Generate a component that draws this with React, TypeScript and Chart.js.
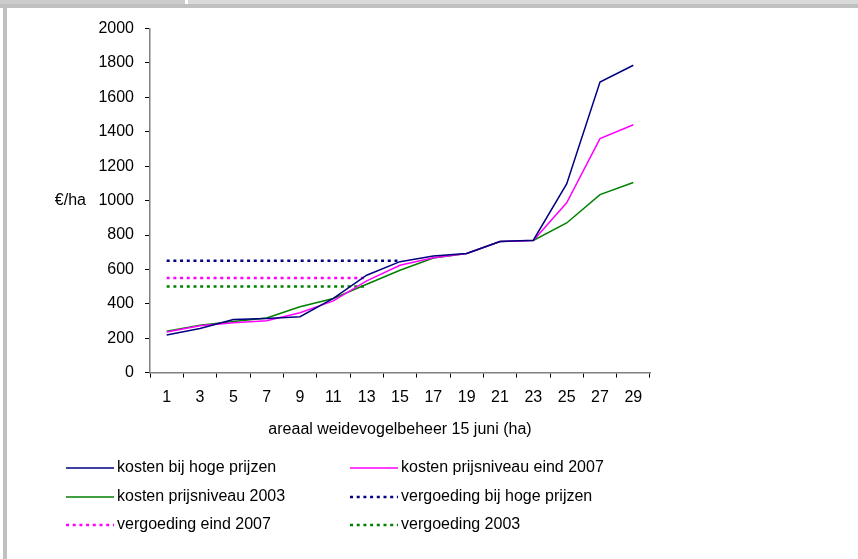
import React, { useEffect, useRef } from "react";
import { Chart, registerables } from "chart.js";

Chart.register(...registerables);

const xLabels = ["1", "3", "5", "7", "9", "11", "13", "15", "17", "19", "21", "23", "25", "27", "29"];
const kostenHoog = [218, 257, 309, 315, 325, 431, 566, 645, 678, 693, 762, 770, 1097, 1689, 1787];
const kosten2007 = [236, 272, 290, 301, 348, 417, 533, 624, 668, 693, 762, 768, 987, 1360, 1441];
const kosten2003 = [240, 276, 297, 317, 383, 431, 514, 595, 666, 693, 762, 768, 870, 1035, 1105];
const vergoedingHoog = [650, 650, 650, 650, 650, 650, 650, 650, null, null, null, null, null, null, null];
const vergoeding2007 = [550, 550, 550, 550, 550, 550, 550, null, null, null, null, null, null, null, null];
const vergoeding2003 = [500, 500, 500, 500, 500, 500, 500, null, null, null, null, null, null, null, null];
const seriesNames = [
  "kosten bij hoge prijzen",
  "kosten prijsniveau eind 2007",
  "kosten prijsniveau 2003",
  "vergoeding bij hoge prijzen",
  "vergoeding eind 2007",
  "vergoeding 2003",
];
const xTitle = "areaal weidevogelbeheer 15 juni (ha)";
const yTitle = "€/ha";

const FONT = "'Liberation Sans', Arial, sans-serif";
const NAVY = "#000080";
const PINK = "#FF00FF";
const GREEN = "#008000";
const DOT = [3, 3.7];

const sidePlugin = {
  id: "sidePlugin",
  afterDraw(chart: any) {
    const ctx = chart.ctx;
    const area = chart.chartArea;
    ctx.save();
    ctx.font = `16px ${FONT}`;
    ctx.fillStyle = "#000";
    ctx.textAlign = "right";
    ctx.textBaseline = "middle";
    ctx.fillText(yTitle, 79, (area.top + area.bottom) / 2);

    // legend in two columns
    const colLine = [59, 343];
    const lineLen = 48;
    const rows = [460, 489, 517];
    chart.data.datasets.forEach((ds: any, i: number) => {
      const col = i % 2;
      const row = Math.floor(i / 2);
      const y = rows[row];
      const x0 = colLine[col];
      ctx.beginPath();
      ctx.strokeStyle = ds.borderColor;
      ctx.lineWidth = ds.borderWidth;
      ctx.setLineDash(ds.borderDash || []);
      ctx.moveTo(x0, y);
      ctx.lineTo(x0 + lineLen, y);
      ctx.stroke();
      ctx.setLineDash([]);
      ctx.textAlign = "left";
      ctx.textBaseline = "middle";
      ctx.fillStyle = "#000";
      ctx.fillText(ds.label, x0 + lineLen + 3, y);
    });
    ctx.restore();
  },
};

export default function App() {
  const ref = useRef<HTMLCanvasElement | null>(null);
  useEffect(() => {
    if (!ref.current) return;
    const mk = (label: string, data: any[], color: string, dashed: boolean) => ({
      label,
      data,
      borderColor: color,
      backgroundColor: color,
      borderWidth: dashed ? 2.5 : 1.5,
      borderDash: dashed ? DOT : [],
      pointRadius: 0,
      fill: false,
      tension: 0,
      spanGaps: false,
    });
    const chart = new Chart(ref.current, {
      type: "line",
      data: {
        labels: xLabels,
        datasets: [
          mk(seriesNames[0], kostenHoog, NAVY, false),
          mk(seriesNames[1], kosten2007, PINK, false),
          mk(seriesNames[2], kosten2003, GREEN, false),
          mk(seriesNames[3], vergoedingHoog, NAVY, true),
          mk(seriesNames[4], vergoeding2007, PINK, true),
          mk(seriesNames[5], vergoeding2003, GREEN, true),
        ],
      },
      options: {
        animation: false,
        responsive: false,
        devicePixelRatio: 1,
        layout: { padding: { top: 19, right: 208, left: 0, bottom: 116 } },
        plugins: { legend: { display: false }, tooltip: { enabled: false } },
        scales: {
          x: {
            type: "category",
            offset: true,
            grid: {
              offset: true,
              drawOnChartArea: false,
              drawTicks: true,
              tickLength: 5,
              tickColor: "#000",
              lineWidth: 1,
            },
            border: { display: true, color: "#808080", width: 1.5 },
            ticks: {
              color: "#000",
              font: { family: FONT, size: 16 },
              padding: 10,
              maxRotation: 0,
              autoSkip: false,
            },
            title: {
              display: true,
              text: xTitle,
              color: "#000",
              font: { family: FONT, size: 16 },
              padding: { top: 3, bottom: 4 },
            },
          },
          y: {
            min: 0,
            max: 2000,
            afterFit: (s: any) => {
              s.width = 143;
            },
            grid: {
              drawOnChartArea: false,
              drawTicks: true,
              tickLength: 5,
              tickColor: "#000",
              lineWidth: 1,
            },
            border: { display: true, color: "#808080", width: 1.5 },
            ticks: {
              stepSize: 200,
              color: "#000",
              font: { family: FONT, size: 16 },
              padding: 11,
              callback: (v: any) => String(v),
            },
          },
        },
      },
      plugins: [sidePlugin],
    } as any);
    return () => chart.destroy();
  }, []);

  return (
    <div style={{ position: "fixed", left: 0, top: 0, width: 858, height: 559, background: "#fff", overflow: "hidden" }}>
      <div style={{ position: "absolute", left: 0, top: 0, width: 185, height: 4, background: "#cbcbcb" }} />
      <div style={{ position: "absolute", left: 188, top: 0, width: 670, height: 4, background: "#d9d9d9" }} />
      <div style={{ position: "absolute", left: 0, top: 4, width: 858, height: 4, background: "#c0c0c0" }} />
      <div style={{ position: "absolute", left: 3, top: 8, width: 4, height: 551, background: "#c0c0c0" }} />
      <canvas ref={ref} width={851} height={551} style={{ position: "absolute", left: 7, top: 8, width: 851, height: 551 }} />
    </div>
  );
}
